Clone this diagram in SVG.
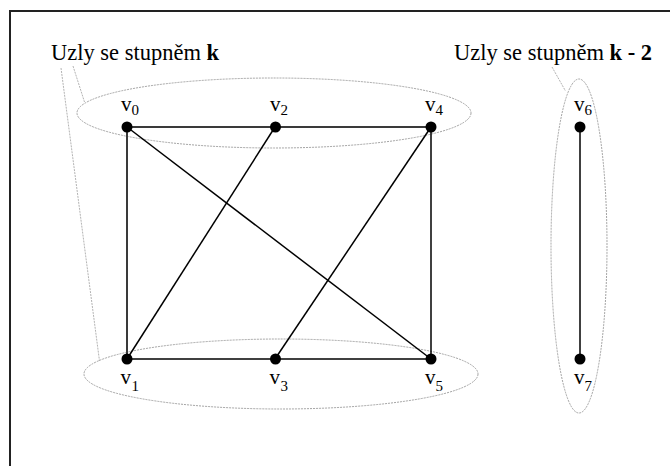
<svg xmlns="http://www.w3.org/2000/svg" width="670" height="466" viewBox="0 0 670 466">
<style>
.frame{fill:none;stroke:#222;stroke-width:2}
.grp{fill:none;stroke:#999;stroke-width:0.9;stroke-dasharray:2 1}
.lead{fill:none;stroke:#aaa;stroke-width:0.9;stroke-dasharray:2 1}
.edge{stroke:#000;stroke-width:1.5;fill:none}
.edge2{stroke:#3a3a3a;stroke-width:2;fill:none}
.dot{fill:#000}
.t{font-family:"Liberation Serif","Times New Roman",serif;fill:#000}
.title{font-size:22.5px}
.v{font-size:21px}
.s{font-size:15px}
</style>
<rect width="670" height="466" fill="#fff"/>
<rect class="frame" x="10" y="11" width="700" height="500"/>
<g id="groups">
<ellipse class="grp" cx="274" cy="113" rx="197" ry="35"/>
<ellipse class="grp" cx="281" cy="374" rx="197" ry="35"/>
<ellipse class="grp" cx="579" cy="246" rx="28" ry="167"/>
<line class="lead" x1="73" y1="66" x2="84.5" y2="102"/>
<line class="lead" x1="61" y1="68" x2="99.5" y2="361"/>
<line class="lead" x1="552" y1="67" x2="565.5" y2="91"/>
</g>
<g id="connectors">
<line class="edge2" x1="127" y1="127" x2="431" y2="127"/>
<line class="edge" x1="127" y1="359" x2="431" y2="359"/>
<line class="edge2" x1="127" y1="127" x2="127" y2="359"/>
<line class="edge" x1="431" y1="127" x2="431" y2="359"/>
<line class="edge" x1="127" y1="127" x2="431" y2="359"/>
<line class="edge" x1="275" y1="127" x2="127" y2="359"/>
<line class="edge" x1="431" y1="127" x2="275" y2="359"/>
<line class="edge" x1="580" y1="127" x2="580" y2="359"/>
</g>
<g id="v0"><circle class="dot" cx="127" cy="127" r="5.5"/><text class="t v" x="121" y="110.5">v</text><text class="t s" x="131.5" y="115">0</text></g>
<g id="v2"><circle class="dot" cx="275.5" cy="127" r="5.5"/><text class="t v" x="270" y="110.5">v</text><text class="t s" x="280.5" y="115">2</text></g>
<g id="v4"><circle class="dot" cx="431" cy="127" r="5.5"/><text class="t v" x="425" y="110.5">v</text><text class="t s" x="435.5" y="115">4</text></g>
<g id="v6"><circle class="dot" cx="580" cy="127" r="5.5"/><text class="t v" x="574" y="110.5">v</text><text class="t s" x="584.5" y="115">6</text></g>
<g id="v1"><circle class="dot" cx="127" cy="359" r="5.5"/><text class="t v" x="120.5" y="383.5">v</text><text class="t s" x="131.5" y="391">1</text></g>
<g id="v3"><circle class="dot" cx="275.5" cy="359" r="5.5"/><text class="t v" x="269.5" y="383.5">v</text><text class="t s" x="280.5" y="391">3</text></g>
<g id="v5"><circle class="dot" cx="431" cy="359" r="5.5"/><text class="t v" x="425" y="383.5">v</text><text class="t s" x="435.5" y="391">5</text></g>
<g id="v7"><circle class="dot" cx="580" cy="359" r="5.5"/><text class="t v" x="574" y="383.5">v</text><text class="t s" x="584.5" y="391">7</text></g>
<g id="labels">
<text class="t title" x="51" y="60">Uzly se stupněm <tspan font-weight="bold">k</tspan></text>
<text class="t title" x="454" y="60">Uzly se stupněm <tspan font-weight="bold">k - 2</tspan></text>
</g>
</svg>
